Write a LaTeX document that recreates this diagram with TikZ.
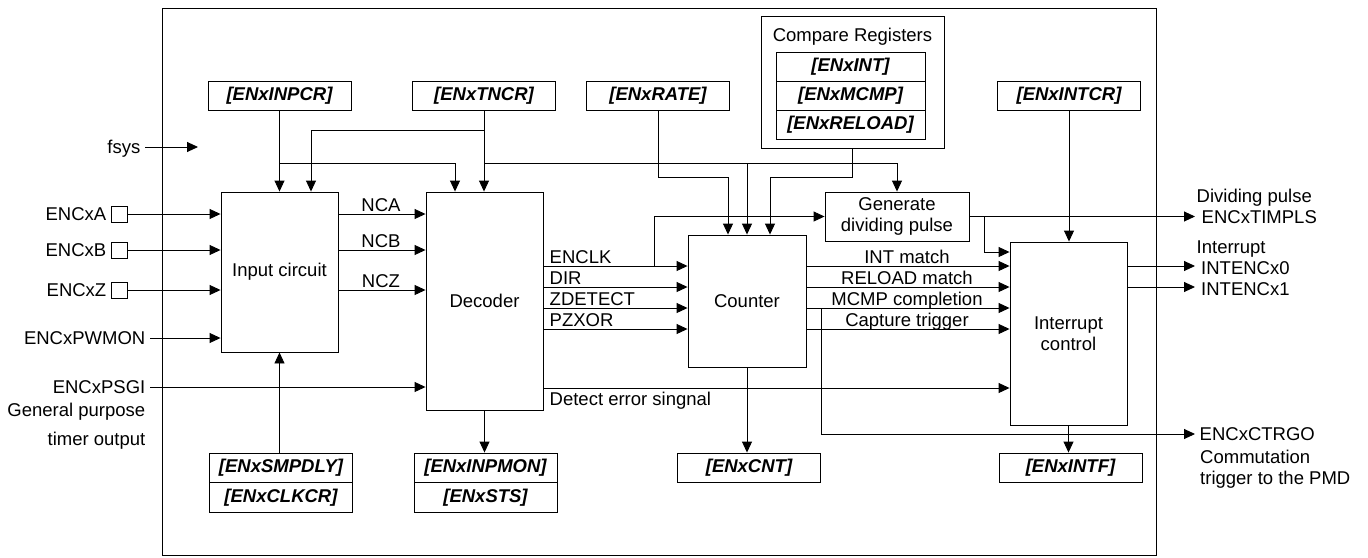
\documentclass[tikz,border=0pt]{standalone}
\usepackage{fontspec}
\setmainfont{Liberation Sans}
\usepackage{tikz}
\usetikzlibrary{arrows.meta}

\newcommand{\diagsize}{\fontsize{18.5pt}{21.5pt}\selectfont}

\tikzset{
  blockbox/.style={draw, line width=0.9pt, fill=white, inner sep=0pt, align=center},
  regbox/.style={draw, line width=0.9pt, fill=white, inner sep=0pt, minimum width=143pt, minimum height=29pt, font=\diagsize\bfseries\itshape},
  pinbox/.style={draw, line width=0.9pt, minimum size=16pt, inner sep=0pt},
  sig/.style={line width=0.9pt, -{Triangle[length=11pt,width=10pt]}},
  inlbl/.style={inner xsep=4.5pt, inner ysep=0pt},
  lbl/.style={inner sep=0pt},
}

\begin{document}
\begin{tikzpicture}[x=1pt,y=1pt,yscale=-1,xscale=1, every node/.append style={font=\diagsize}]
\useasboundingbox (0,0) rectangle (1368,557);

%Shape: Outer frame
\draw[line width=0.9pt] (162,8) rectangle (1156,555);

%Shape: Blocks
\node[blockbox, minimum width=117pt, minimum height=160pt] (inp) at (279.5,272) {Input circuit};
\node[blockbox, minimum width=117pt, minimum height=218pt] (dec) at (484.5,301) {Decoder};
\node[blockbox, minimum width=118pt, minimum height=132pt] (cnt) at (747,301) {Counter};
\node[blockbox, minimum width=144pt, minimum height=49pt] (gen) at (897,216.5) {Generate\\dividing pulse};
\node[blockbox, minimum width=117pt, minimum height=183pt] (intc) at (1068.5,333.5) {Interrupt\\control};

%Shape: Registers
\node[regbox] (rinpcr) at (279.5,95.5) {[ENxINPCR]};
\node[regbox] (rtncr) at (484,95.5) {[ENxTNCR]};
\node[regbox] (rrate) at (658,95.5) {[ENxRATE]};
\node[regbox] (rintcr) at (1069,95.5) {[ENxINTCR]};
\node[draw, line width=0.9pt, minimum width=183pt, minimum height=132pt] (cmpbox) at (852.5,82) {};
\node[lbl, anchor=base] (cmptitle) at (852.5,41.5) {Compare Registers};
\node[regbox, minimum width=149pt] (rint) at (850.5,66.5) {[ENxINT]};
\node[regbox, minimum width=149pt] (rmcmp) at (850.5,95.5) {[ENxMCMP]};
\node[regbox, minimum width=149pt] (rreload) at (850.5,124.5) {[ENxRELOAD]};
\node[regbox, minimum height=29.5pt] (rsmp) at (281,467.75) {[ENxSMPDLY]};
\node[regbox, minimum height=29.5pt] (rclk) at (281,497.25) {[ENxCLKCR]};
\node[regbox, minimum height=29.5pt] (rinpmon) at (485.5,467.75) {[ENxINPMON]};
\node[regbox, minimum height=29.5pt] (rsts) at (485.5,497.25) {[ENxSTS]};
\node[regbox, minimum height=29.5pt] (rcnt) at (749,467.75) {[ENxCNT]};
\node[regbox, minimum height=29.5pt] (rintf) at (1070.5,467.75) {[ENxINTF]};

%Straight Lines: register settings into the blocks
\draw[sig] (rinpcr.south) -- (inp.north);
\coordinate (j1) at (rinpcr.south |- 0,163);
\draw[sig] (j1) -| ([xshift=-29.5pt]dec.north);
\draw[sig] (rtncr.south) -- (rtncr.south |- dec.north);
\coordinate (j2) at (rtncr.south |- 0,130);
\draw[sig] (j2) -| ([xshift=31.5pt]inp.north);
\coordinate (j3) at (rtncr.south |- 0,163);
\draw[sig] (j3) -| (gen.north);
\coordinate (j4) at (cnt.north |- 0,163);
\draw[sig] (j4) -- (cnt.north);
\draw[sig] (rrate.south) -- (rrate.south |- 0,177) -| ([xshift=-19pt]cnt.north);
\draw[sig] (cmpbox.south) -- (cmpbox.south |- 0,177) -| ([xshift=23pt]cnt.north);
\draw[sig] (rintcr.south) -- (rintcr.south |- intc.north);

%Straight Lines: blocks down to status registers
\draw[sig] (inp.south |- rsmp.north) -- (inp.south);
\draw[sig] (dec.south) -- (dec.south |- rinpmon.north);
\draw[sig] (cnt.south) -- (cnt.south |- rcnt.north);
\draw[sig] (intc.south) -- (intc.south |- rintf.north);

% Text Node: inputs
\node[inlbl, anchor=base east] (tfsys) at (145,153.6) {fsys};
\coordinate (fsysend) at (198,147);
\draw[sig] (tfsys.east |- fsysend) -- (fsysend);
\foreach \p/\y in {A/214,B/250,Z/290}{
  \node[pinbox] (p\p) at (119,\y) {};
  \node[inlbl, anchor=base east] (t\p) at (111,\y+6.6) {ENCx\p};
  \draw[sig] (p\p.east) -- (p\p.east -| inp.west);
}
\node[inlbl, anchor=base east] (tpwm) at (150,344.6) {ENCxPWMON};
\draw[sig] (tpwm.east |- 0,338) -- (inp.west |- 0,338);
\node[inlbl, anchor=base east] (tpsgi) at (150,393.6) {ENCxPSGI};
\draw[sig] (tpsgi.east |- 0,387) -- (dec.west |- 0,387);
\node[inlbl, anchor=base east] (tgp) at (150,416) {General purpose};
\node[inlbl, anchor=base east] (ttim) at (150,445) {timer output};

%Straight Lines: input circuit to decoder
\foreach \y/\t in {214/NCA,250/NCB,290/NCZ}{
  \draw[sig] (inp.east |- 0,\y) -- (dec.west |- 0,\y);
  \node[lbl, anchor=base] (n\t) at (381,\y-2.5) {\t};
}

%Straight Lines: decoder to counter
\foreach \y/\t in {266/ENCLK,287/DIR,308/ZDETECT,329/PZXOR}{
  \draw[sig] (dec.east |- 0,\y) -- (cnt.west |- 0,\y);
  \node[lbl, anchor=base west] (d\t) at (549.5,\y-2.5) {\t};
}
\coordinate (j5) at (654,266);
\draw[sig] (j5) |- (gen.west);
\draw[sig] (dec.east |- 0,388) -- (intc.west |- 0,388);
\node[lbl, anchor=base west] (tdet) at (549.5,405) {Detect error singnal};

%Straight Lines: counter to interrupt control
\foreach \y/\t [count=\i] in {266/INT match,287/RELOAD match,308/MCMP completion,329/Capture trigger}{
  \draw[sig] (cnt.east |- 0,\y) -- (intc.west |- 0,\y);
  \node[lbl, anchor=base] (c\i) at (907,\y-2.5) {\t};
}
\coordinate (j7) at (984,216.5);
\draw[sig] (j7) |- (intc.west |- 0,252);

% Text Node: outputs
\coordinate (oTIM) at (1195,216.5);
\draw[sig] (gen.east) -- (oTIM);
\node[lbl, anchor=base west] (tdiv) at (1196.5,202) {Dividing pulse};
\node[lbl, anchor=base west] (tTIM) at (1201.5,223) {ENCxTIMPLS};
\coordinate (oI0) at (1195,266);
\coordinate (oI1) at (1195,287);
\draw[sig] (intc.east |- oI0) -- (oI0);
\draw[sig] (intc.east |- oI1) -- (oI1);
\node[lbl, anchor=base west] (tint) at (1196.5,253) {Interrupt};
\node[lbl, anchor=base west] (tI0) at (1201,274) {INTENCx0};
\node[lbl, anchor=base west] (tI1) at (1201,295) {INTENCx1};
\coordinate (j6) at (821,308);
\coordinate (oCTR) at (1195,434);
\draw[sig] (j6) |- (oCTR);
\node[lbl, anchor=base west] (tCTR) at (1199.5,440.6) {ENCxCTRGO};
\node[lbl, anchor=base west] (tcom) at (1200,463) {Commutation};
\node[lbl, anchor=base west] (ttrg) at (1200,484) {trigger to the PMD};

\end{tikzpicture}
\end{document}
